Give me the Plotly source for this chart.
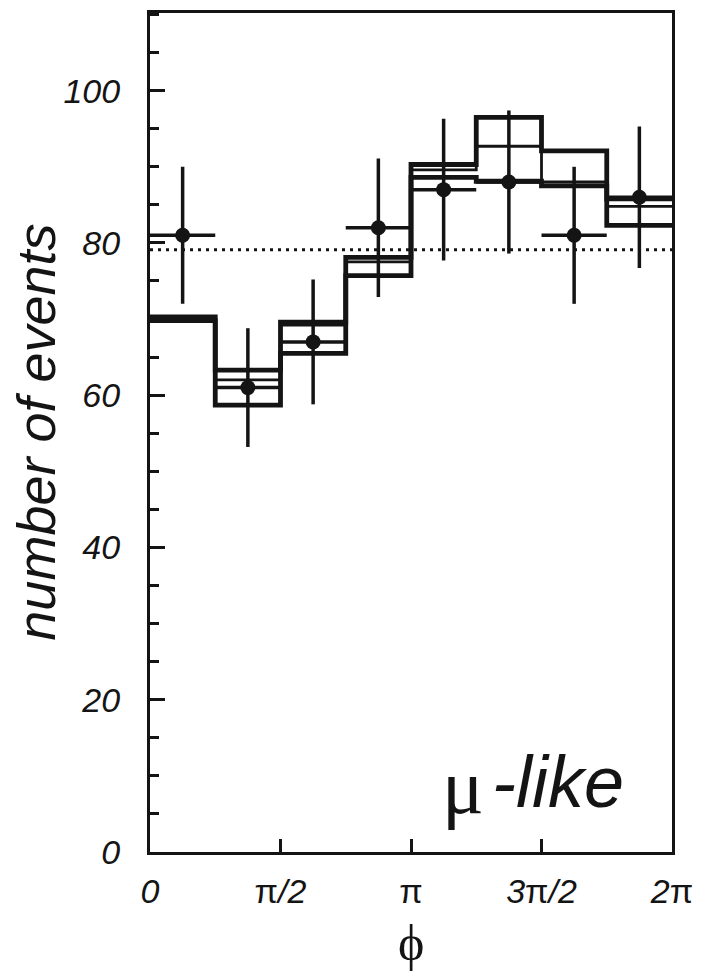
import math
import plotly.graph_objects as go

# Azimuthal angle bins: eight equal bins over [0, 2π]
n_bins = 8
bin_edges = [i * 2 * math.pi / n_bins for i in range(n_bins + 1)]
bin_centers = [(bin_edges[i] + bin_edges[i + 1]) / 2 for i in range(n_bins)]
half_width = math.pi / n_bins

# Observed counts and their statistical errors
data_counts = [81, 61, 67, 82, 87, 88, 81, 86]
data_errors = [9.0, 7.8, 8.2, 9.1, 9.3, 9.4, 9.0, 9.3]

# Expected distributions (three model curves)
model_a = [70.3, 63.3, 69.6, 78.1, 90.3, 96.5, 92.1, 85.8]
model_b = [70.0, 62.0, 69.2, 77.5, 89.6, 92.7, 88.0, 84.8]
model_c = [69.8, 58.7, 65.5, 75.7, 88.6, 88.1, 87.5, 82.3]

# Flat reference level (average of observed counts)
flat_level = 79.1

x_tickvals = [0, math.pi / 2, math.pi, 3 * math.pi / 2, 2 * math.pi]
x_ticktext = ["<i>0</i>", "π<i>/2</i>", "π", "<i>3</i>π<i>/2</i>", "<i>2</i>π"]

INK = "#141414"

fig = go.Figure()

# Model histograms as step lines
for values, width in ((model_c, 4.8), (model_b, 2.8), (model_a, 4.8)):
    fig.add_trace(go.Scatter(
        x=bin_edges,
        y=values + [values[-1]],
        mode="lines",
        line=dict(shape="hv", color=INK, width=width),
        hoverinfo="skip",
        showlegend=False,
    ))

# Flat dotted reference line
fig.add_trace(go.Scatter(
    x=[0, 2 * math.pi],
    y=[flat_level, flat_level],
    mode="lines",
    line=dict(color=INK, width=3, dash="3px,5px"),
    hoverinfo="skip",
    showlegend=False,
))

# Data points with error bars
fig.add_trace(go.Scatter(
    x=bin_centers,
    y=data_counts,
    mode="markers",
    marker=dict(size=15, color=INK),
    error_y=dict(type="data", array=data_errors, visible=True,
                 thickness=3.5, width=0, color=INK),
    error_x=dict(type="constant", value=half_width, visible=True,
                 thickness=3.5, width=0, color=INK),
    showlegend=False,
))

tick_font = dict(family="Liberation Sans", size=34, color=INK)

fig.update_layout(
    width=706,
    height=975,
    margin=dict(l=150, r=34, t=10, b=123),
    paper_bgcolor="white",
    plot_bgcolor="white",
    showlegend=False,
    xaxis=dict(
        range=[0, 2 * math.pi],
        tickvals=x_tickvals,
        ticktext=x_ticktext,
        ticks="inside",
        ticklen=13,
        tickwidth=3,
        tickcolor=INK,
        tickfont=tick_font,
        ticklabelstandoff=7,
        showline=True,
        linewidth=3,
        linecolor=INK,
        mirror=True,
        showgrid=False,
        zeroline=False,
    ),
    yaxis=dict(
        range=[0, 110.2],
        tick0=0,
        dtick=20,
        ticks="inside",
        ticklen=15,
        tickwidth=3,
        tickcolor=INK,
        tickfont=dict(tick_font, style="italic"),
        ticklabelstandoff=20,
        minor=dict(dtick=5, ticks="inside", ticklen=9, tickwidth=3, tickcolor=INK),
        showline=True,
        linewidth=3,
        linecolor=INK,
        mirror=True,
        showgrid=False,
        zeroline=False,
    ),
    annotations=[
        dict(
            text="number of events",
            xref="paper", yref="paper",
            x=-0.22, y=0.5,
            xanchor="center", yanchor="middle",
            textangle=-90,
            showarrow=False,
            font=dict(family="Liberation Sans", size=54, color=INK, style="italic"),
        ),
        dict(
            text="ϕ",
            xref="paper", yref="paper",
            x=0.5, y=-0.108,
            xanchor="center", yanchor="middle",
            showarrow=False,
            font=dict(family="Liberation Serif", size=50, color=INK),
        ),
        # Event sample label: upright serif mu followed by italic text
        dict(
            text="μ",
            xref="paper", yref="paper",
            x=0.5996, y=0.078,
            xanchor="center", yanchor="middle",
            showarrow=False,
            font=dict(family="Liberation Serif", size=78, color=INK),
        ),
        dict(
            text="-like",
            xref="paper", yref="paper",
            x=0.651, y=0.083,
            xanchor="left", yanchor="middle",
            showarrow=False,
            font=dict(family="Liberation Sans", size=72, color=INK, style="italic"),
        ),
    ],
)

fig.write_html("out.html")
